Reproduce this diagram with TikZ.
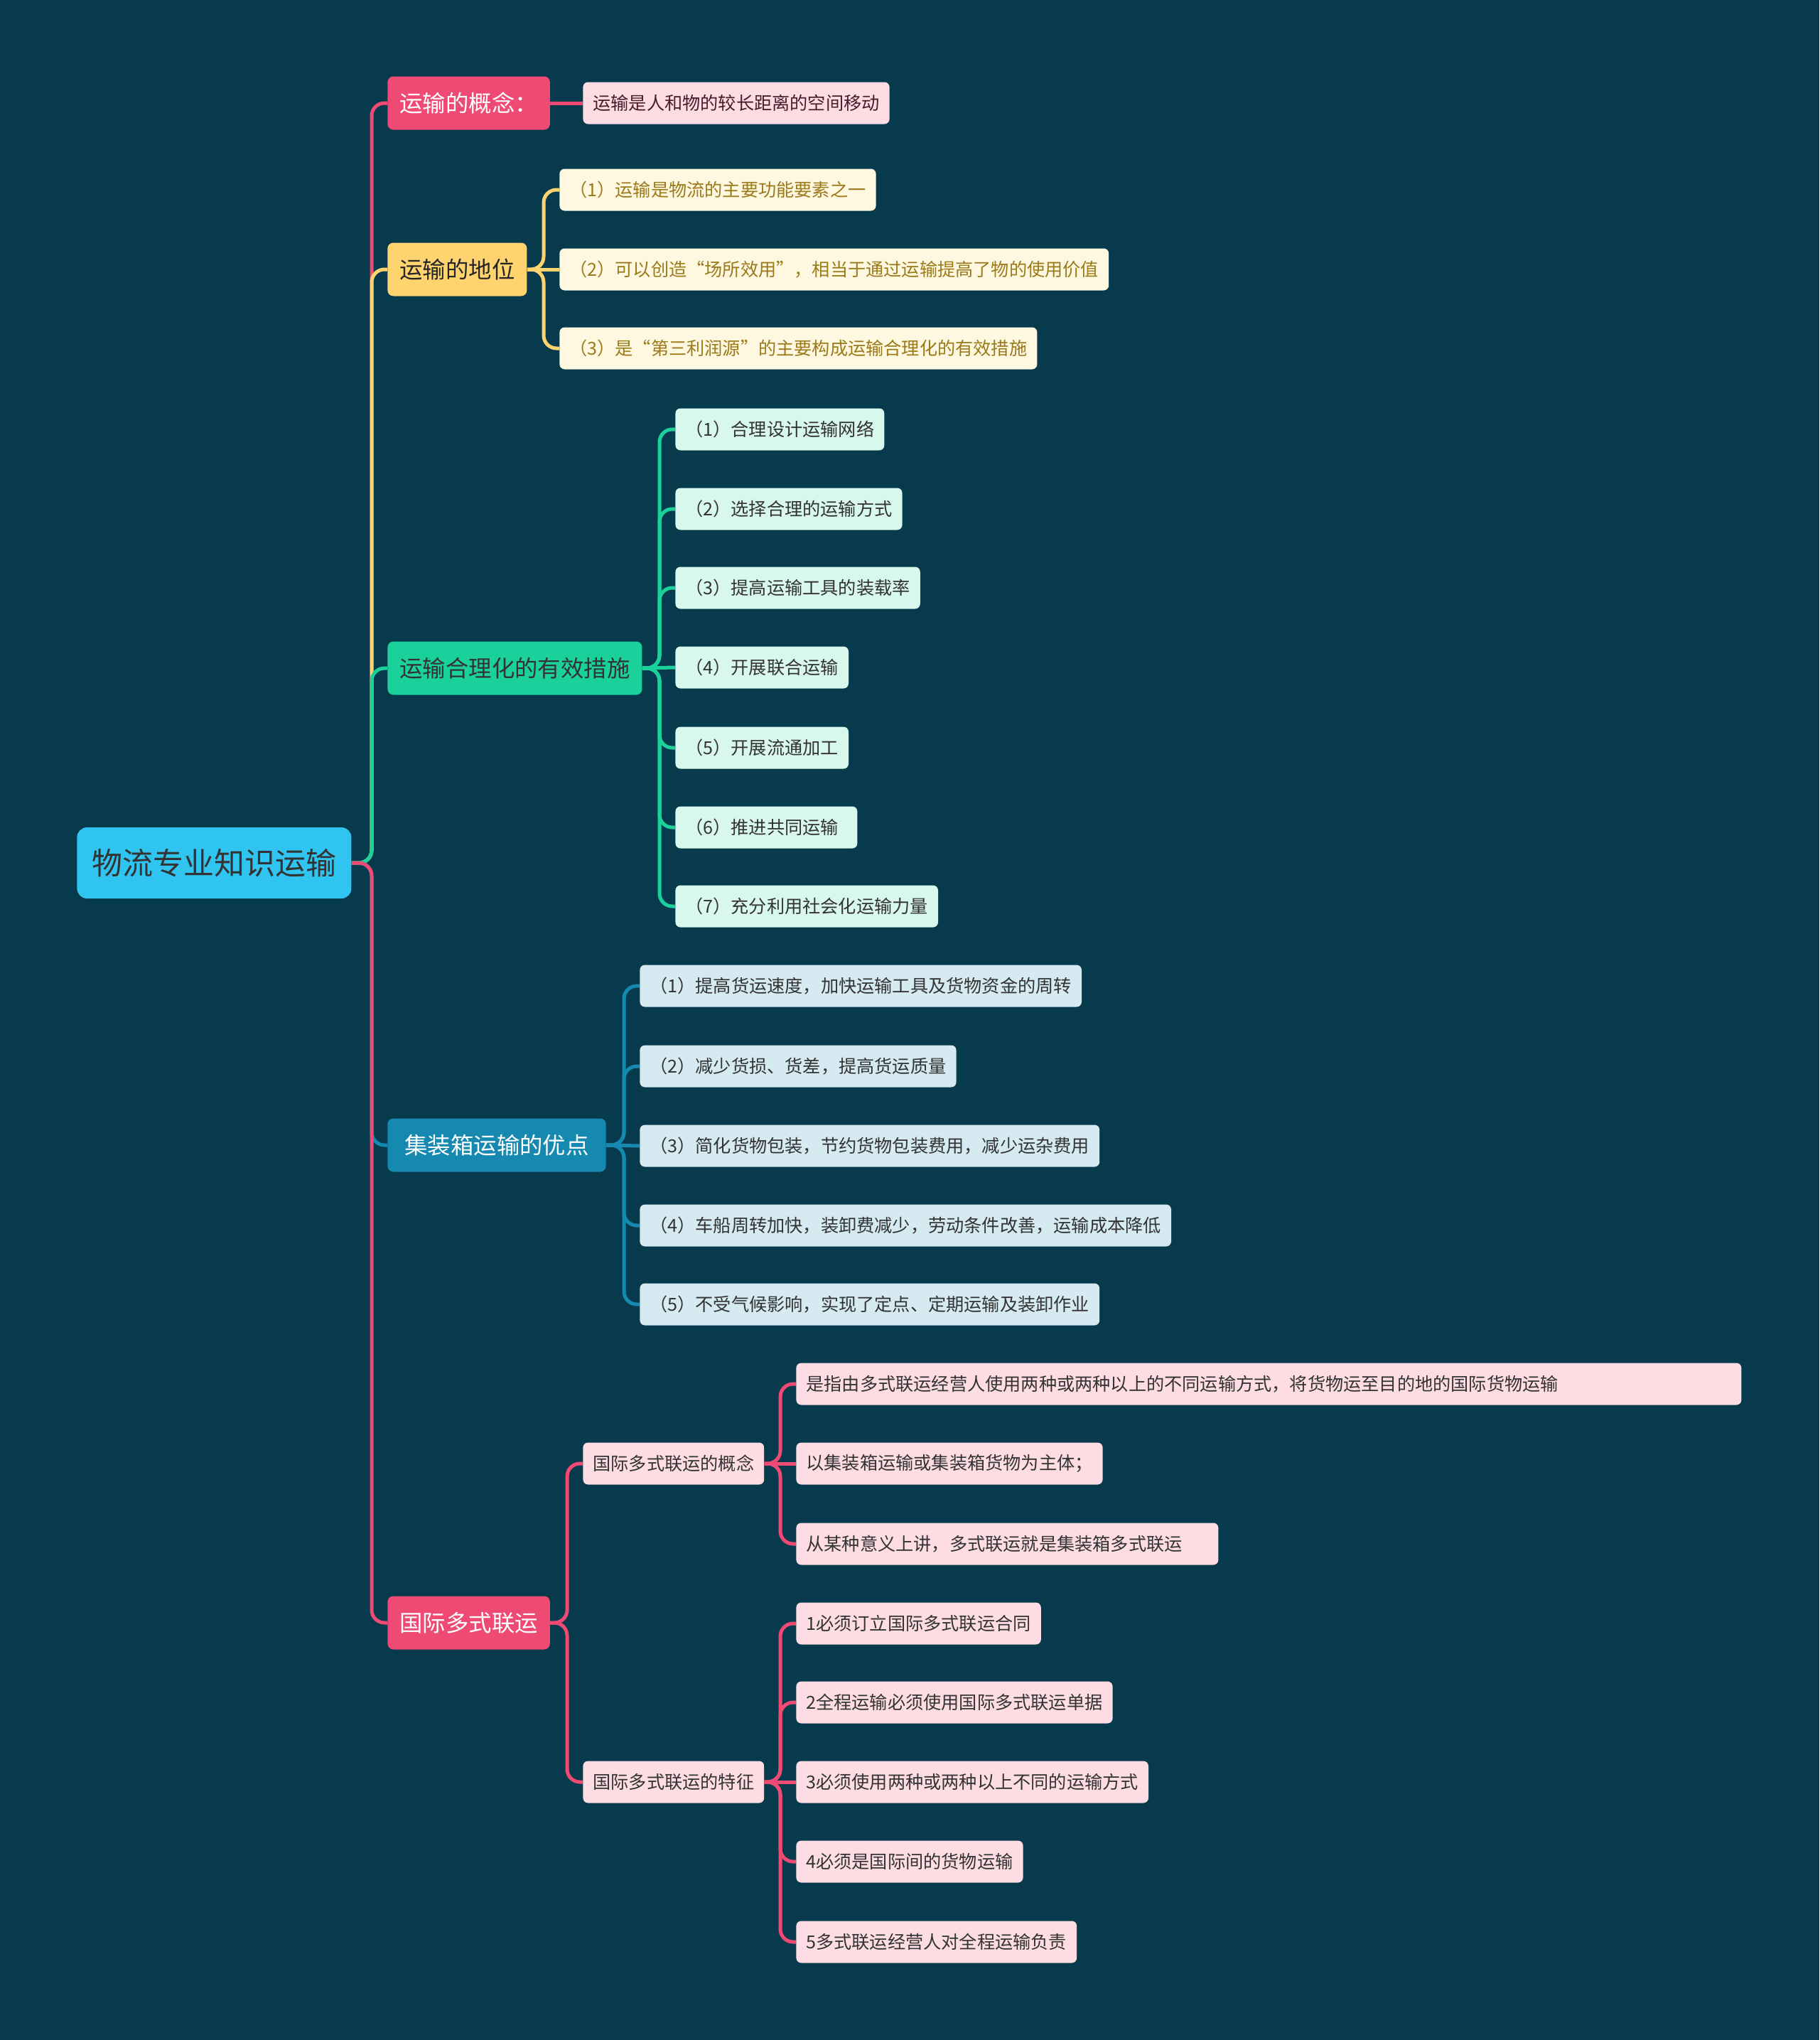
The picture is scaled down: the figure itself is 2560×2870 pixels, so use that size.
\documentclass[tikz,border=0pt]{standalone}
\usepackage{fontspec}
\setmainfont{Noto Sans CJK SC}
\definecolor{bg}{HTML}{063A4C}
\definecolor{rootc}{HTML}{30C4F0}
\definecolor{pinkc}{HTML}{EE4A74}
\definecolor{yelc}{HTML}{FFD46E}
\definecolor{grnc}{HTML}{1BD19B}
\definecolor{bluc}{HTML}{1689B0}
\definecolor{pinkl}{HTML}{FDDDE3}
\definecolor{yell}{HTML}{FFF8E1}
\definecolor{grnl}{HTML}{D8F8EE}
\definecolor{blul}{HTML}{D5EAF1}
\definecolor{goldt}{HTML}{9B7A1A}
\definecolor{maroont}{HTML}{4A1B2B}

\begin{document}
\begin{tikzpicture}[x=0.5pt, y=-0.5pt,
      rootbox/.style={fill=rootc, text=black!80, rounded corners=7pt, minimum height=50pt,
                      inner xsep=10.5pt, font=\fontsize{21.5}{24}\selectfont, anchor=west},
      topic/.style={rounded corners=4pt, minimum height=37.5pt, inner xsep=8.5pt,
                    font=\fontsize{16.2}{18}\selectfont, anchor=west},
      leaf/.style={rounded corners=3.5pt, minimum height=29.5pt, inner xsep=7pt,
                   font=\fontsize{12.6}{15}\selectfont, anchor=west},
      edge/.style={line width=2.5pt, rounded corners=9pt}]
    \fill[bg] (0, 0) rectangle (2560, 2870);
    % spines
    \coordinate (sp0) at (523, 0);
    \coordinate (sp2) at (765, 0);
    \coordinate (sp3) at (928, 0);
    \coordinate (sp4) at (878, 0);
    \coordinate (sp5) at (798, 0);
    \coordinate (sp6) at (1098, 0);
    % root and main topics
    \node[rootbox] (root) at (108, 1214) {物流专业知识运输};
    \node[topic, fill=pinkc, text=white] (c1) at (545, 145) {运输的概念：};
    \node[topic, fill=yelc, text=black!85] (c2) at (545, 379) {运输的地位};
    \node[topic, fill=grnc, text=black!80] (c3) at (545, 940) {运输合理化的有效措施};
    \node[topic, fill=bluc, text=white, inner xsep=12pt] (c4) at (545, 1611) {集装箱运输的优点};
    \node[topic, fill=pinkc, text=white] (c5) at (545, 2283) {国际多式联运};
    % concept
    \node[leaf, fill=pinkl, text=maroont] (a1) at (820, 145) {运输是人和物的较长距离的空间移动};
    % position
    \node[leaf, fill=yell, text=goldt] (b1) at (787, 267) {（1）运输是物流的主要功能要素之一};
    \node[leaf, fill=yell, text=goldt] (b2) at (787, 379) {（2）可以创造“场所效用”，相当于通过运输提高了物的使用价值};
    \node[leaf, fill=yell, text=goldt] (b3) at (787, 490) {（3）是“第三利润源”的主要构成运输合理化的有效措施};
    % rationalisation
    \node[leaf, fill=grnl, text=black!80] (r1) at (950, 604) {（1）合理设计运输网络};
    \node[leaf, fill=grnl, text=black!80] (r2) at (950, 716) {（2）选择合理的运输方式};
    \node[leaf, fill=grnl, text=black!80] (r3) at (950, 827) {（3）提高运输工具的装载率};
    \node[leaf, fill=grnl, text=black!80] (r4) at (950, 939) {（4）开展联合运输};
    \node[leaf, fill=grnl, text=black!80] (r5) at (950, 1052) {（5）开展流通加工};
    \node[leaf, fill=grnl, text=black!80, align=left, text width=114pt] (r6) at (950, 1164) {（6）推进共同运输};
    \node[leaf, fill=grnl, text=black!80] (r7) at (950, 1275) {（7）充分利用社会化运输力量};
    % container
    \node[leaf, fill=blul, text=black!80] (j1) at (900, 1387) {（1）提高货运速度，加快运输工具及货物资金的周转};
    \node[leaf, fill=blul, text=black!80] (j2) at (900, 1500) {（2）减少货损、货差，提高货运质量};
    \node[leaf, fill=blul, text=black!80] (j3) at (900, 1612) {（3）简化货物包装，节约货物包装费用，减少运杂费用};
    \node[leaf, fill=blul, text=black!80] (j4) at (900, 1724) {（4）车船周转加快，装卸费减少，劳动条件改善，运输成本降低};
    \node[leaf, fill=blul, text=black!80] (j5) at (900, 1835) {（5）不受气候影响，实现了定点、定期运输及装卸作业};
    % multimodal
    \node[leaf, fill=pinkl, text=black!80] (g1) at (820, 2059) {国际多式联运的概念};
    \node[leaf, fill=pinkl, text=black!80] (g2) at (820, 2507) {国际多式联运的特征};
    \node[leaf, fill=pinkl, text=black!80, align=left, text width=651pt]
      (k1) at (1120, 1947) {是指由多式联运经营人使用两种或两种以上的不同运输方式，将货物运至目的地的国际货物运输};
    \node[leaf, fill=pinkl, text=black!80] (k2) at (1120, 2059) {以集装箱运输或集装箱货物为主体；};
    \node[leaf, fill=pinkl, text=black!80, align=left, text width=283pt]
      (k3) at (1120, 2172) {从某种意义上讲，多式联运就是集装箱多式联运};
    \node[leaf, fill=pinkl, text=black!80] (t1) at (1120, 2284) {1必须订立国际多式联运合同};
    \node[leaf, fill=pinkl, text=black!80] (t2) at (1120, 2395) {2全程运输必须使用国际多式联运单据};
    \node[leaf, fill=pinkl, text=black!80] (t3) at (1120, 2507) {3必须使用两种或两种以上不同的运输方式};
    \node[leaf, fill=pinkl, text=black!80] (t4) at (1120, 2619) {4必须是国际间的货物运输};
    \node[leaf, fill=pinkl, text=black!80] (t5) at (1120, 2732) {5多式联运经营人对全程运输负责};
    % main branches
    \draw[edge, pinkc] (root.east) -| (sp0 |- c1.west) -- (c1.west);
    \draw[edge, yelc] (root.east) -| (sp0 |- c2.west) -- (c2.west);
    \draw[edge, grnc] (root.east) -| (sp0 |- c3.west) -- (c3.west);
    \draw[edge, bluc] (root.east) -| (sp0 |- c4.west) -- (c4.west);
    \draw[edge, pinkc] (root.east) -| (sp0 |- c5.west) -- (c5.west);
    % sub branches
    \draw[edge, pinkc] (c1.east) -- (a1.west);
    \draw[edge, yelc] (c2.east) -| (sp2 |- b1.west) -- (b1.west);
    \draw[edge, yelc] (c2.east) -- (b2.west);
    \draw[edge, yelc] (c2.east) -| (sp2 |- b3.west) -- (b3.west);
    \draw[edge, grnc] (c3.east) -| (sp3 |- r1.west) -- (r1.west);
    \draw[edge, grnc] (c3.east) -| (sp3 |- r2.west) -- (r2.west);
    \draw[edge, grnc] (c3.east) -| (sp3 |- r3.west) -- (r3.west);
    \draw[edge, grnc] (c3.east) -- (r4.west);
    \draw[edge, grnc] (c3.east) -| (sp3 |- r5.west) -- (r5.west);
    \draw[edge, grnc] (c3.east) -| (sp3 |- r6.west) -- (r6.west);
    \draw[edge, grnc] (c3.east) -| (sp3 |- r7.west) -- (r7.west);
    \draw[edge, bluc] (c4.east) -| (sp4 |- j1.west) -- (j1.west);
    \draw[edge, bluc] (c4.east) -| (sp4 |- j2.west) -- (j2.west);
    \draw[edge, bluc] (c4.east) -- (j3.west);
    \draw[edge, bluc] (c4.east) -| (sp4 |- j4.west) -- (j4.west);
    \draw[edge, bluc] (c4.east) -| (sp4 |- j5.west) -- (j5.west);
    \draw[edge, pinkc] (c5.east) -| (sp5 |- g1.west) -- (g1.west);
    \draw[edge, pinkc] (c5.east) -| (sp5 |- g2.west) -- (g2.west);
    \draw[edge, pinkc] (g1.east) -| (sp6 |- k1.west) -- (k1.west);
    \draw[edge, pinkc] (g1.east) -- (k2.west);
    \draw[edge, pinkc] (g1.east) -| (sp6 |- k3.west) -- (k3.west);
    \draw[edge, pinkc] (g2.east) -| (sp6 |- t1.west) -- (t1.west);
    \draw[edge, pinkc] (g2.east) -| (sp6 |- t2.west) -- (t2.west);
    \draw[edge, pinkc] (g2.east) -- (t3.west);
    \draw[edge, pinkc] (g2.east) -| (sp6 |- t4.west) -- (t4.west);
    \draw[edge, pinkc] (g2.east) -| (sp6 |- t5.west) -- (t5.west);
  \end{tikzpicture}
\end{document}
